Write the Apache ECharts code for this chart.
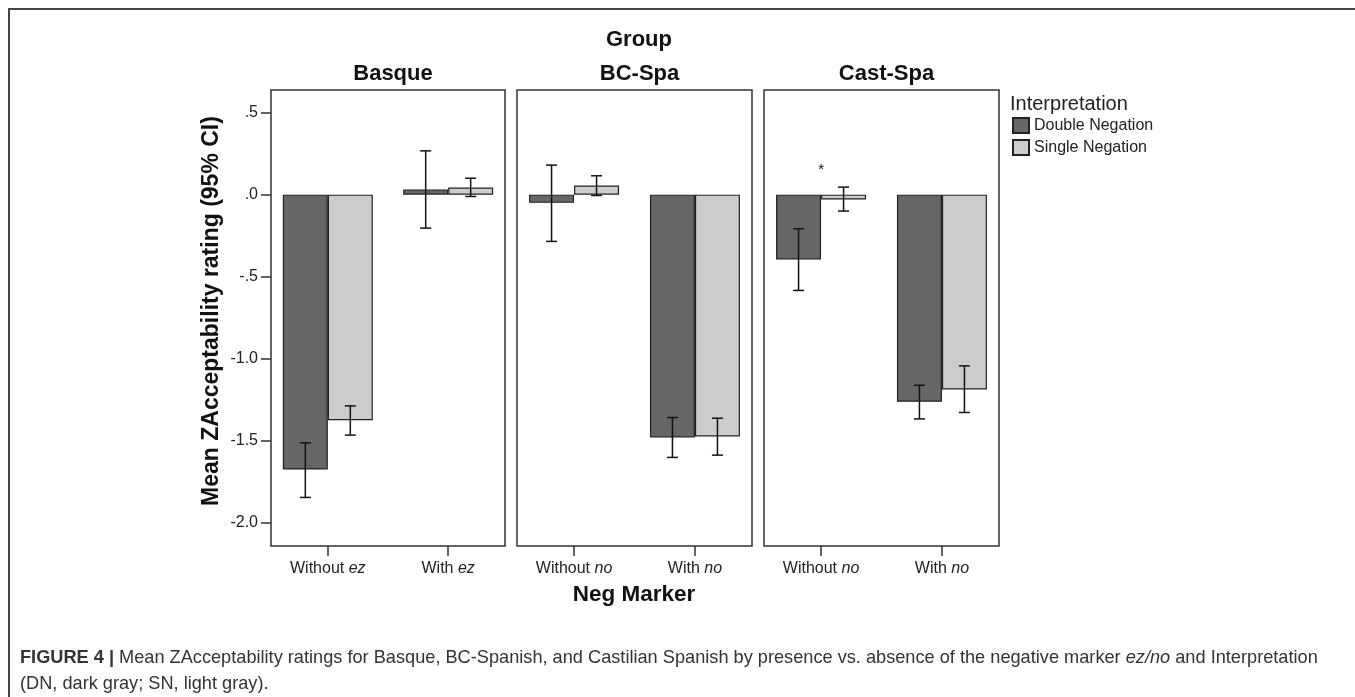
<!DOCTYPE html>
<html>
<head>
<meta charset="utf-8">
<script src="https://cdn.jsdelivr.net/npm/echarts@6.0.0/dist/echarts.min.js"></script>
<style>
html,body{margin:0;padding:0;background:#fff;}
#chart{width:1355px;height:697px;}
</style>
</head>
<body>
<div id="chart"></div>
<script>
// ---- data ----
const groups = ['Basque', 'BC-Spa', 'Cast-Spa'];
const catsBasque = ['Without ez', 'With ez'];
const catsSpa = ['Without no', 'With no'];
const seriesNames = ['Double Negation', 'Single Negation'];

const basqueDN = [-1.676, 0.032];
const basqueSN = [-1.375, 0.044];
const bcDN = [-0.05, -1.48];
const bcSN = [0.056, -1.474];
const castDN = [-0.395, -1.263];
const castSN = [-0.03, -1.188];

// 95% CI [low, high]
const basqueDNci = [[-1.846, -1.513], [-0.204, 0.267]];
const basqueSNci = [[-1.466, -1.288], [-0.011, 0.100]];
const bcDNci = [[-0.285, 0.180], [-1.602, -1.359]];
const bcSNci = [[-0.005, 0.115], [-1.588, -1.363]];
const castDNci = [[-0.584, -0.208], [-1.367, -1.162]];
const castSNci = [[-0.100, 0.046], [-1.328, -1.044]];

// significance mark: [category index, value]
const castStar = [[0, 0.154]];

const yTicks = [0.5, 0, -0.5, -1, -1.5, -2];
const xTicks = [0, 1];
const yMin = -2.142, yMax = 0.638;
const xMin = -0.472, xMax = 1.472;

// ---- build ----
const chart = echarts.init(document.getElementById('chart'), null, {renderer: 'canvas'});
const FONT = '"Liberation Sans", Arial, Helvetica, sans-serif';
const DN_COLOR = '#666666', SN_COLOR = '#cccccc';
const BAR_W = 45;

const gridLeft = [271, 517, 764];
const gridW = [234, 235, 235];
const gridTop = 90, gridH = 456;

const panelCats = [catsBasque, catsSpa, catsSpa];
const panelDN = [basqueDN, bcDN, castDN];
const panelSN = [basqueSN, bcSN, castSN];
const panelDNci = [basqueDNci, bcDNci, castDNci];
const panelSNci = [basqueSNci, bcSNci, castSNci];

function fmtTick(v) {
  if (v === 0) return '.0';
  if (Math.abs(v) < 1) return (v < 0 ? '-' : '') + '.' + String(Math.abs(v)).split('.')[1];
  return v.toFixed(1);
}

function errRender(offset) {
  return function (params, api) {
    const lo = api.coord([api.value(0), api.value(1)]);
    const hi = api.coord([api.value(0), api.value(2)]);
    const x = lo[0] + offset;
    const cap = 5.5;
    const st = {stroke: '#111', lineWidth: 1.5};
    return {
      type: 'group',
      children: [
        {type: 'line', shape: {x1: x, y1: lo[1], x2: x, y2: hi[1]}, style: st},
        {type: 'line', shape: {x1: x - cap, y1: lo[1], x2: x + cap, y2: lo[1]}, style: st},
        {type: 'line', shape: {x1: x - cap, y1: hi[1], x2: x + cap, y2: hi[1]}, style: st}
      ]
    };
  };
}

const grids = [], xAxes = [], yAxes = [], series = [], titles = [];
for (let g = 0; g < 3; g++) {
  const cats = panelCats[g];
  grids.push({
    left: gridLeft[g], top: gridTop, width: gridW[g], height: gridH,
    show: true, borderColor: '#333', borderWidth: 1.5, backgroundColor: '#fff'
  });
  xAxes.push({
    type: 'value', gridIndex: g, min: xMin, max: xMax, position: 'bottom',
    splitLine: {show: false},
    axisLine: {show: false, onZero: false},
    axisTick: {show: true, length: 10, customValues: xTicks, lineStyle: {color: '#333', width: 1.5}},
    axisLabel: {
      margin: 15, customValues: xTicks,
      formatter: function (v) {
        const s = cats[Math.round(v)] || '';
        const i = s.lastIndexOf(' ');
        return '{n|' + s.slice(0, i + 1) + '}{i|' + s.slice(i + 1) + '}';
      },
      rich: {
        n: {fontFamily: FONT, fontSize: 16, color: '#222'},
        i: {fontFamily: FONT, fontSize: 16, color: '#222', fontStyle: 'italic'}
      }
    }
  });
  yAxes.push({
    type: 'value', gridIndex: g, min: yMin, max: yMax, position: 'left',
    splitLine: {show: false},
    axisLine: {show: false, onZero: false},
    axisTick: g === 0 ? {show: true, length: 10, customValues: yTicks, lineStyle: {color: '#333', width: 1.5}} : {show: false},
    axisLabel: g === 0 ? {show: true, customValues: yTicks, formatter: fmtTick, fontFamily: FONT, fontSize: 16, color: '#222', margin: 13} : {show: false}
  });
  series.push({
    name: seriesNames[0], type: 'bar', xAxisIndex: g, yAxisIndex: g,
    data: panelDN[g].map((v, i) => [i, v]), barWidth: BAR_W, barGap: '0%',
    itemStyle: {color: DN_COLOR, borderColor: '#222', borderWidth: 1.2}
  });
  series.push({
    name: seriesNames[1], type: 'bar', xAxisIndex: g, yAxisIndex: g,
    data: panelSN[g].map((v, i) => [i, v]), barWidth: BAR_W, barGap: '0%',
    itemStyle: {color: SN_COLOR, borderColor: '#222', borderWidth: 1.2}
  });
  series.push({
    name: 'DN CI ' + g, type: 'custom', xAxisIndex: g, yAxisIndex: g, z: 5,
    data: panelDNci[g].map((c, i) => [i, c[0], c[1]]),
    renderItem: errRender(-BAR_W / 2), silent: true
  });
  series.push({
    name: 'SN CI ' + g, type: 'custom', xAxisIndex: g, yAxisIndex: g, z: 5,
    data: panelSNci[g].map((c, i) => [i, c[0], c[1]]),
    renderItem: errRender(BAR_W / 2), silent: true
  });
  titles.push({
    text: groups[g], left: gridLeft[g] + gridW[g] / 2, top: 58, textAlign: 'center',
    textStyle: {fontFamily: FONT, fontSize: 22, fontWeight: 'bold', color: '#111'}
  });
}
series.push({
  name: 'star', type: 'custom', xAxisIndex: 2, yAxisIndex: 2, z: 6,
  data: castStar,
  renderItem: function (params, api) {
    const p = api.coord([api.value(0), api.value(1)]);
    return {type: 'text', style: {text: '*', x: p[0], y: p[1], align: 'center', verticalAlign: 'middle', fontSize: 15, fontFamily: FONT, fill: '#111'}};
  }
});
titles.push({
  text: 'Group', left: 634, top: 24, textAlign: 'center',
  textStyle: {fontFamily: FONT, fontSize: 22, fontWeight: 'bold', color: '#111'}
});

const CAP_FONT = '"Liberation Sans", Arial, sans-serif';
const option = {
  backgroundColor: '#fff',
  animation: false,
  title: titles,
  legend: {
    data: seriesNames, orient: 'vertical', left: 1012, top: 117, padding: 0,
    itemWidth: 16, itemHeight: 15, itemGap: 5, icon: 'rect',
    textStyle: {fontFamily: FONT, fontSize: 16, color: '#222'}
  },
  grid: grids, xAxis: xAxes, yAxis: yAxes, series: series,
  graphic: [
    {type: 'line', shape: {x1: 8, y1: 9, x2: 1355, y2: 9}, style: {stroke: '#444', lineWidth: 2}},
    {type: 'line', shape: {x1: 9, y1: 8, x2: 9, y2: 697}, style: {stroke: '#444', lineWidth: 2}},
    {type: 'text', x: 1010, y: 104, style: {text: 'Interpretation', fontFamily: FONT, fontSize: 20, fill: '#222', verticalAlign: 'middle'}},
    {type: 'text', x: 212, y: 311, rotation: Math.PI / 2, style: {text: 'Mean ZAcceptability rating (95% CI)', fontFamily: FONT, fontSize: 23, fontWeight: 'bold', fill: '#111', align: 'center', verticalAlign: 'middle'}},
    {type: 'text', x: 634, y: 595, style: {text: 'Neg Marker', fontFamily: FONT, fontSize: 22.5, fontWeight: 'bold', fill: '#111', align: 'center', verticalAlign: 'middle'}},
    {type: 'text', x: 20, y: 645, scaleX: 0.957, style: {
      text: '{b|FIGURE 4 |} Mean ZAcceptability ratings for Basque, BC-Spanish, and Castilian Spanish by presence vs. absence of the negative marker {i|ez/no} and Interpretation\n(DN, dark gray; SN, light gray).',
      fontFamily: CAP_FONT, fontSize: 19, fill: '#333', lineHeight: 26,
      rich: {
        b: {fontFamily: CAP_FONT, fontSize: 19, fontWeight: 'bold', color: '#222'},
        i: {fontFamily: CAP_FONT, fontSize: 19, fontStyle: 'italic', color: '#333'}
      }
    }}
  ]
};
chart.setOption(option);
</script>
</body>
</html>
